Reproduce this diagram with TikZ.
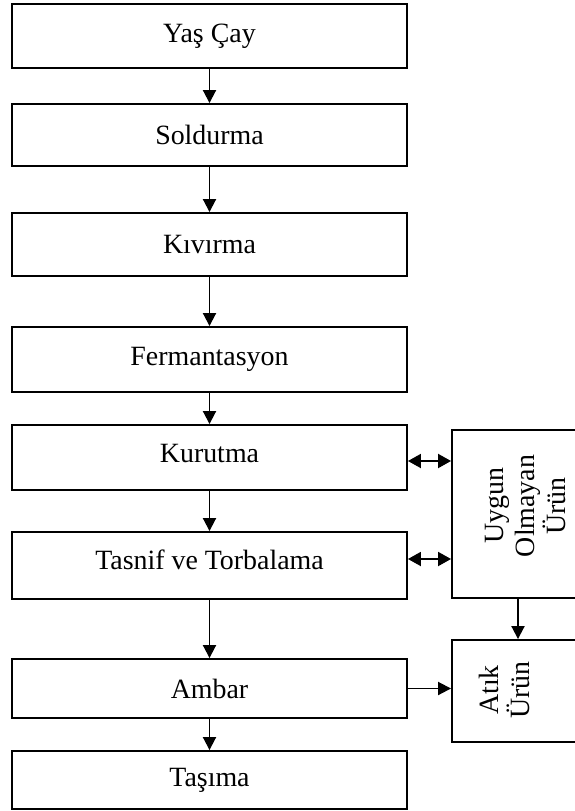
\documentclass[tikz,border=0pt]{standalone}
\usepackage{fontspec}
\setmainfont{Liberation Serif}
\usetikzlibrary{arrows.meta}
\begin{document}
\begin{tikzpicture}[x=1pt,y=-1pt,
  stepbox/.style={draw,line width=1.9pt,minimum width=395pt,inner sep=0pt,font=\fontsize{27.9}{32}\selectfont},
  raised/.style={text height=20pt,text depth=#1},
  sidebox/.style={draw,line width=1.9pt,inner sep=0pt,minimum width=170pt},
  sidetext/.style={rotate=90,align=center,font=\fontsize{27.9}{31}\selectfont,inner sep=0pt},
  flow/.style={line width=1.9pt,-{Triangle[length=13pt,width=13pt]}},
  both/.style={line width=1.9pt,{Triangle[length=13pt,width=14pt]}-{Triangle[length=13pt,width=14pt]}}]
\useasboundingbox (0,0) rectangle (575,811);
\clip (0,0) rectangle (575,811);
\node[stepbox,minimum height=64pt] (yas) at (209.5,36) {Yaş Çay};
\node[stepbox,minimum height=62pt] (sold) at (209.5,135) {Soldurma};
\node[stepbox,minimum height=63pt] (kiv) at (209.5,244.5) {Kıvırma};
\node[stepbox,minimum height=65pt] (ferm) at (209.5,359.5) {Fermantasyon};
\node[stepbox,minimum height=65pt,raised=11pt] (kuru) at (209.5,457.5) {Kurutma};
\node[stepbox,minimum height=67pt,raised=12pt] (tasn) at (209.5,565.5) {Tasnif ve Torbalama};
\node[stepbox,minimum height=59pt] (amb) at (209.5,688.5) {Ambar};
\node[stepbox,minimum height=58pt] (tas) at (209.5,780) {Taşıma};
\node[sidebox,minimum height=168pt] (uyg) at (537,514) {};
\node[sidebox,minimum height=102pt] (atik) at (537,691) {};
\node[sidetext] (uygt) at (525,506) {Uygun\\Olmayan\\Ürün};
\node[sidetext] (atikt) at (504,690) {Atık\\Ürün};
\coordinate (dx) at (518,0);
\draw[flow] (yas.south) -- (sold.north);
\draw[flow] (sold.south) -- (kiv.north);
\draw[flow] (kiv.south) -- (ferm.north);
\draw[flow] (ferm.south) -- (kuru.north);
\draw[flow] (kuru.south) -- (tasn.north);
\draw[flow] (tasn.south) -- (amb.north);
\draw[flow] (amb.south) -- (tas.north);
\draw[both] ([yshift=-3.5pt]kuru.east) -- ([yshift=-3.5pt]kuru.east -| uyg.west);
\draw[both] ([yshift=6.5pt]tasn.east) -- ([yshift=6.5pt]tasn.east -| uyg.west);
\draw[flow] (uyg.south -| dx) -- (atik.north -| dx);
\draw[flow] (amb.east) -- (amb.east -| atik.west);
\end{tikzpicture}
\end{document}
